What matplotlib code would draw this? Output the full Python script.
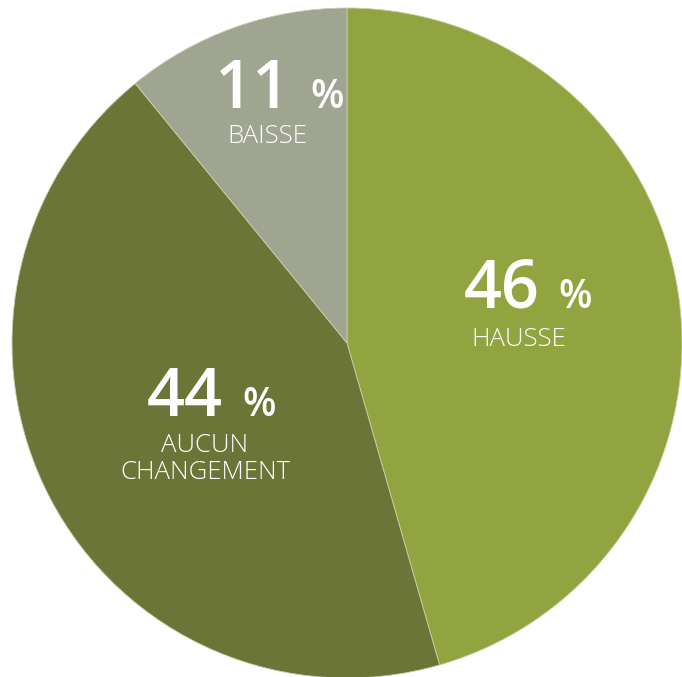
import matplotlib.pyplot as plt

# Slice data (clockwise from 12 o'clock)
labels = ["HAUSSE", "AUCUN\nCHANGEMENT", "BAISSE"]
values = [46, 44, 11]
colors = ["#91A440", "#6B7537", "#A0A591"]

fig = plt.figure(figsize=(6.82, 6.77), dpi=100)
ax = fig.add_axes([0, 0, 1, 1])

R = 335
ax.pie(values, colors=colors, startangle=90, counterclock=False, radius=R,
       wedgeprops=dict(edgecolor="#C9CFA8", linewidth=0.6))
ax.set_xlim(-347, 335)
ax.set_ylim(-334, 343)
ax.set_aspect("equal")
ax.axis("off")

# number / percent / label positions, in pixel offsets from centre
num_pos = [(117, 35), (-200, -73), (-132, 235)]
lab_pos = [(172, 16), (-142, -90), (-80, 219)]

for v, lab, (nx, ny), (lx, ly) in zip(values, labels, num_pos, lab_pos):
    t = ax.text(nx, ny, str(v), color="white", fontsize=48, fontweight="semibold",
                family="Open Sans", ha="left", va="baseline")
    fig.canvas.draw()
    bb = t.get_window_extent().transformed(ax.transData.inverted())
    ax.text(bb.x1 + 19, ny, "%", color="white", fontsize=28, fontweight="semibold",
            family="Open Sans", ha="left", va="baseline")
    ax.text(lx, ly, lab, color="white", fontsize=18.5, fontweight=300,
            family="Open Sans", ha="center", va="top", linespacing=1.1)

fig.savefig("out.png", dpi=100)
